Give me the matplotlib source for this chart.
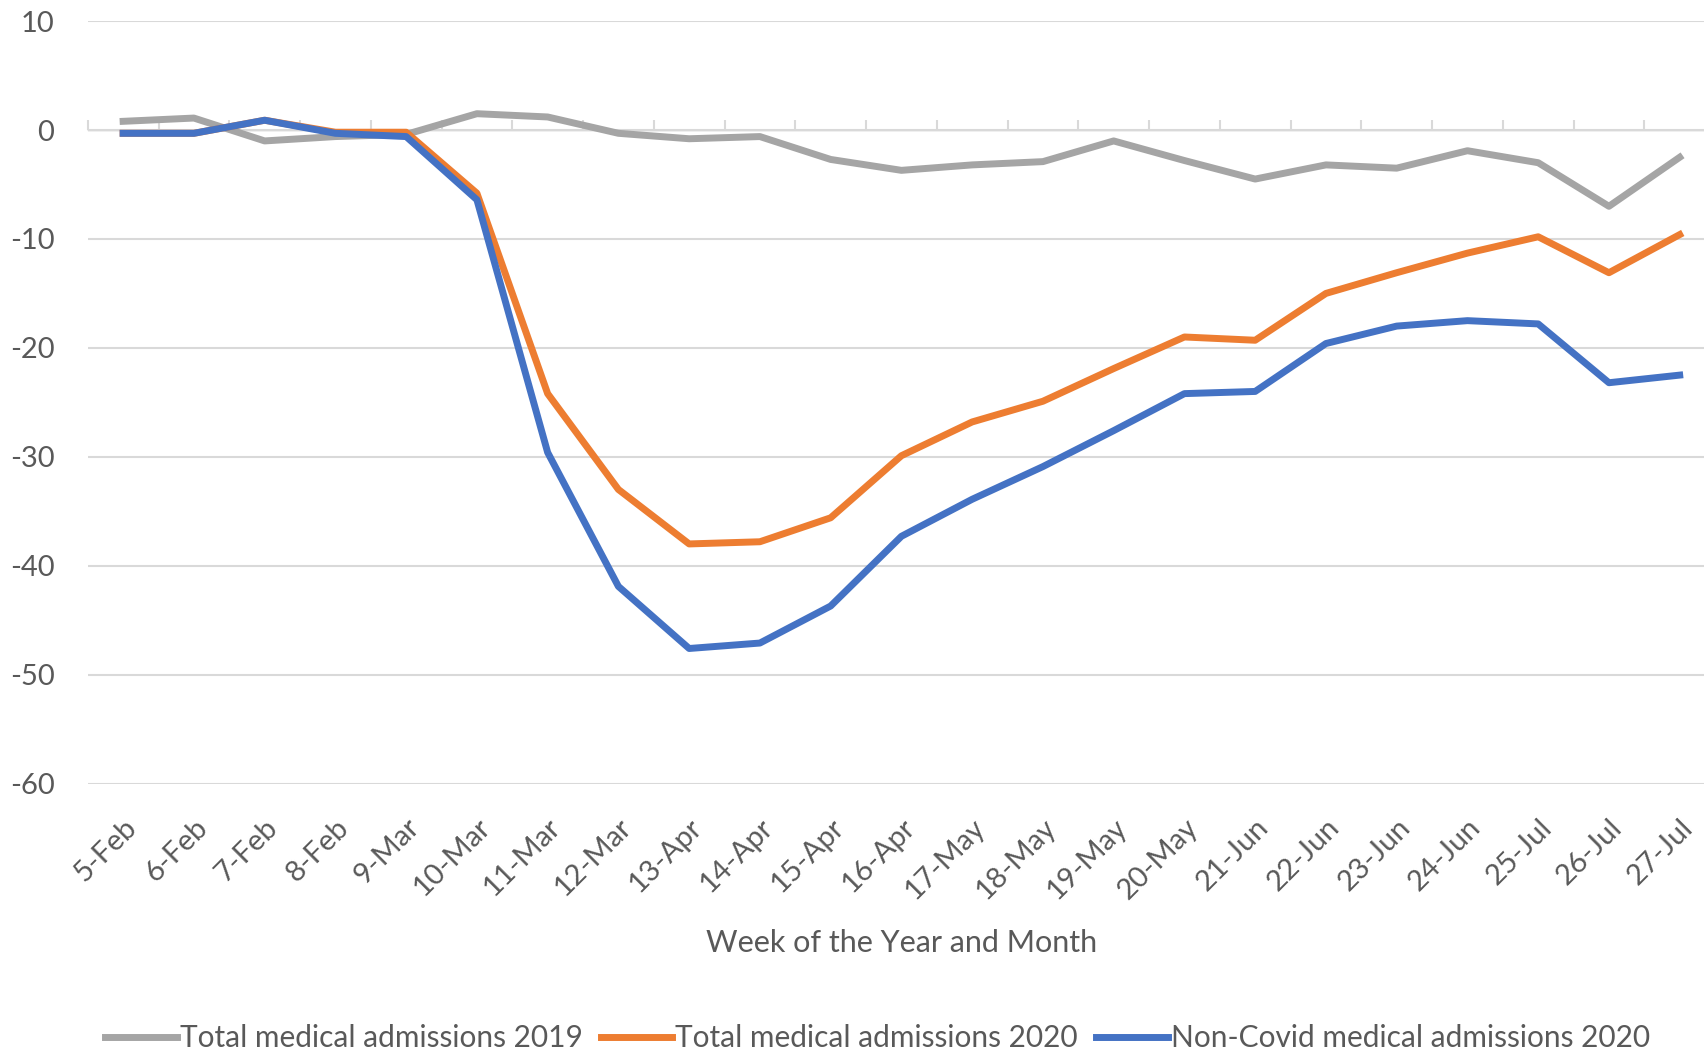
import matplotlib.pyplot as plt
from matplotlib.ticker import FixedLocator, NullFormatter

weeks = ['5-Feb', '6-Feb', '7-Feb', '8-Feb', '9-Mar', '10-Mar', '11-Mar', '12-Mar',
         '13-Apr', '14-Apr', '15-Apr', '16-Apr', '17-May', '18-May', '19-May', '20-May',
         '21-Jun', '22-Jun', '23-Jun', '24-Jun', '25-Jul', '26-Jul', '27-Jul']

total_2019 = [0.8, 1.1, -1.0, -0.6, -0.4, 1.5, 1.2, -0.3, -0.8, -0.6, -2.7, -3.7,
              -3.2, -2.9, -1.0, -2.8, -4.5, -3.2, -3.5, -1.9, -3.0, -7.0, -2.5]
total_2020 = [-0.3, -0.3, 0.9, -0.2, -0.2, -5.8, -24.2, -33.0, -38.0, -37.8, -35.6, -29.9,
              -26.8, -24.9, -21.9, -19.0, -19.3, -15.0, -13.1, -11.3, -9.8, -13.1, -9.6]
noncovid_2020 = [-0.3, -0.3, 0.9, -0.3, -0.6, -6.4, -29.6, -41.9, -47.6, -47.1, -43.7, -37.3,
                 -33.9, -30.9, -27.6, -24.2, -24.0, -19.6, -18.0, -17.5, -17.8, -23.2, -22.5]

GREY = '#A5A5A5'
ORANGE = '#ED7D31'
BLUE = '#4472C4'
TEXT = '#595959'
GRID = '#D9D9D9'

plt.rcParams['font.family'] = ['Liberation Sans Narrow', 'Lato', 'DejaVu Sans']
plt.rcParams['axes.unicode_minus'] = False

fig = plt.figure(figsize=(17.04, 10.56), dpi=100)
ax = fig.add_axes([0.0515, 0.258, 0.955, 0.722])

x = list(range(len(weeks)))
ax.plot(x, total_2019, color=GREY, lw=5, solid_joinstyle='round', label='Total medical admissions 2019')
ax.plot(x, total_2020, color=ORANGE, lw=5, solid_joinstyle='round', label='Total medical admissions 2020')
ax.plot(x, noncovid_2020, color=BLUE, lw=5, solid_joinstyle='round', label='Non-Covid medical admissions 2020')

ax.set_xlim(-0.5, len(weeks) - 0.5)
ax.set_ylim(-60, 10)
ax.set_yticks(range(-60, 11, 10))
ax.yaxis.grid(True, color=GRID, lw=1.5)
ax.set_axisbelow(True)
for s in ax.spines.values():
    s.set_visible(False)

ax.set_xticks(x)
ax.set_xticklabels(weeks, rotation=45, ha='right', rotation_mode='anchor')
ax.tick_params(axis='x', length=0, pad=22, labelsize=21, labelcolor=TEXT)
ax.tick_params(axis='y', length=0, pad=24, labelsize=21, labelcolor=TEXT)

# category axis drawn at y = 0 with ticks between categories
zero_ax = ax.secondary_xaxis(60 / 70)
zero_ax.spines['bottom'].set_color(GRID)
zero_ax.spines['bottom'].set_linewidth(1.5)
zero_ax.xaxis.set_major_locator(FixedLocator([i - 0.5 for i in range(len(weeks) + 1)]))
zero_ax.xaxis.set_major_formatter(NullFormatter())
zero_ax.tick_params(axis='x', direction='out', length=7, width=1.5, color=GRID)

ax.set_xlabel('Week of the Year and Month', fontsize=22, color=TEXT, labelpad=18)

fig.legend(loc='lower center', bbox_to_anchor=(0.515, -0.022), ncol=3, frameon=False,
           fontsize=21.5, labelcolor=TEXT, handlelength=2.4, handletextpad=0.1, columnspacing=0.6)

fig.savefig('out.png', dpi=100)
